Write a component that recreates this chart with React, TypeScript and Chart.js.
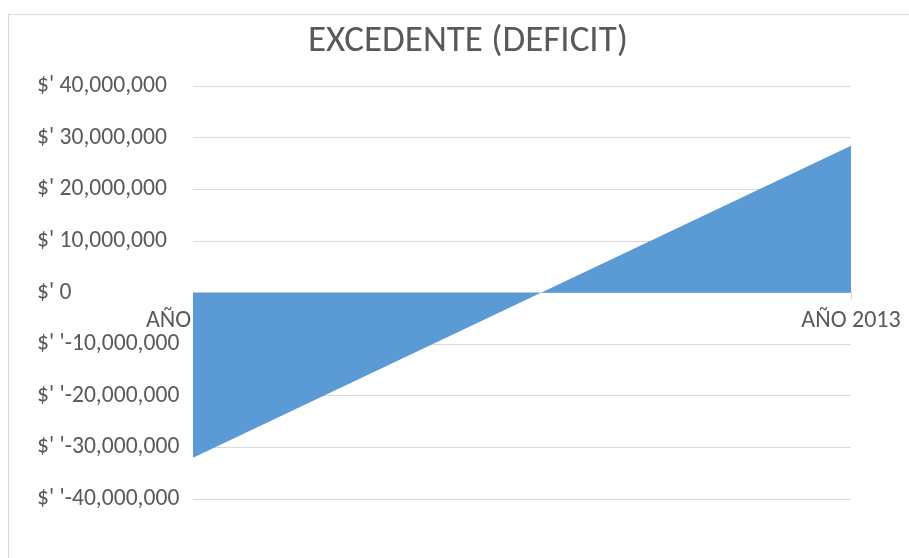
import React, { useEffect, useRef } from "react";
import { Chart, registerables } from "chart.js";

Chart.register(...registerables);

const categories: string[] = ["AÑO", "AÑO 2013"];
const excedente: number[] = [-32000000, 28500000];
const yMin = -40000000;
const yMax = 40000000;
const yStep = 10000000;
const titleText = "EXCEDENTE (DEFICIT)";

const TEXT = "#595959";
const GRID = "#d9d9d9";
const FILL = "#5b9bd5";
const FONT = "Carlito, Calibri, 'Liberation Sans', sans-serif";

function fmt(v: number): string {
  const s = Math.abs(v).toLocaleString("en-US");
  if (v < 0) return "$' '-" + s;
  return "$' " + s;
}

export default function App() {
  const ref = useRef<HTMLCanvasElement | null>(null);
  useEffect(() => {
    if (!ref.current) return;
    const chart = new Chart(ref.current, {
      type: "line",
      data: {
        labels: categories,
        datasets: [
          {
            label: titleText,
            data: excedente,
            fill: "origin",
            backgroundColor: FILL,
            borderColor: FILL,
            borderWidth: 0,
            pointRadius: 0,
            tension: 0,
            yAxisID: "y",
          },
        ],
      },
      options: {
        responsive: false,
        animation: false,
        layout: { padding: { left: 28, right: 10, top: 0, bottom: 59 } },
        plugins: {
          legend: { display: false },
          tooltip: { enabled: false },
          title: {
            display: true,
            text: titleText,
            color: TEXT,
            font: { family: FONT, size: 37, weight: "normal" as any, lineHeight: 1.2 },
            padding: { top: 5, bottom: 22 },
          },
        },
        scales: {
          x: {
            type: "category",
            position: { y: 0 } as any,
            offset: false,
            grid: {
              display: true,
              drawOnChartArea: false,
              drawTicks: true,
              tickLength: 7,
              color: GRID,
            },
            border: { display: true, color: GRID, width: 1 },
            ticks: {
              color: TEXT,
              font: { family: FONT, size: 24 },
              padding: 7,
              maxRotation: 0,
              autoSkip: false,
              callback: (_v: any, i: number) =>
                i === 0 ? categories[i] + "\u00a0".repeat(9) : categories[i],
            },
          },
          y: {
            position: "left",
            min: yMin,
            max: yMax,
            afterFit: (s: any) => {
              s.width = 156;
            },
            grid: { color: GRID, lineWidth: 1, drawTicks: false },
            border: { display: false },
            ticks: {
              stepSize: yStep,
              color: TEXT,
              crossAlign: "far",
              font: { family: FONT, size: 23.6 },
              callback: (v: any) => fmt(Number(v)),
            },
          },
          yRight: {
            position: "right",
            min: yMin,
            max: yMax,
            display: true,
            afterFit: (s: any) => {
              s.width = 48;
            },
            grid: { display: false, drawTicks: false },
            border: { display: false },
            ticks: { display: false },
          },
        },
      },
    });
    return () => chart.destroy();
  }, []);

  return (
    <div
      style={{
        position: "fixed",
        left: 8,
        top: 14,
        width: 901,
        height: 544,
        boxSizing: "border-box",
        borderTop: "1px solid " + GRID,
        borderLeft: "1px solid " + GRID,
        background: "#ffffff",
      }}
    >
      <canvas ref={ref} width={900} height={543} style={{ width: 900, height: 543, display: "block" }} />
    </div>
  );
}
